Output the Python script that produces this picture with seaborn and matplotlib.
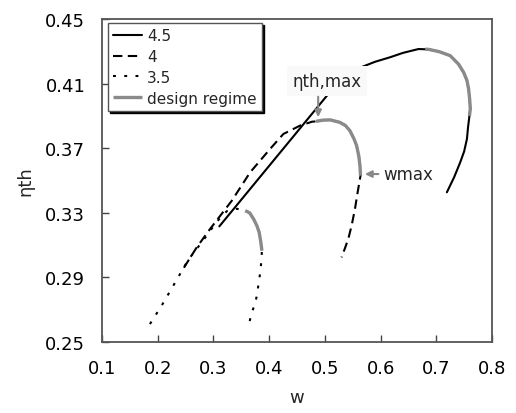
import numpy as np
import pandas as pd
import matplotlib
matplotlib.use("Agg")
import matplotlib.pyplot as plt
import seaborn as sns

# ---- data ----
series_labels = ["4.5", "4", "3.5"]

w_45 = [0.3106, 0.5063, 0.540, 0.565, 0.590, 0.617, 0.640, 0.668, 0.686, 0.705, 0.725,
        0.740, 0.749, 0.755, 0.758, 0.760, 0.761, 0.7595, 0.757, 0.755, 0.750, 0.743, 0.732, 0.719]
eta_45 = [0.3216, 0.4036, 0.4140, 0.4201, 0.4235, 0.4263, 0.4290, 0.4314, 0.4312, 0.4298, 0.4273,
          0.4220, 0.4170, 0.4120, 0.4067, 0.4000, 0.3943, 0.3900, 0.3830, 0.3757, 0.3680, 0.3613, 0.3520, 0.3427]

w_4 = [0.247, 0.270, 0.294, 0.333, 0.366, 0.4016, 0.4255, 0.4555, 0.477, 0.484, 0.497, 0.510,
       0.527, 0.537, 0.545, 0.552, 0.557, 0.561, 0.563, 0.564, 0.559, 0.554, 0.548, 0.542, 0.536, 0.530]
eta_4 = [0.296, 0.3086, 0.320, 0.3375, 0.3551, 0.3695, 0.3788, 0.3840, 0.3864, 0.3866, 0.3874, 0.3875,
         0.3860, 0.3840, 0.3808, 0.3760, 0.3716, 0.3650, 0.3592, 0.3530, 0.3430, 0.3323, 0.3220, 0.3138, 0.3080, 0.3024]

w_35 = [0.186, 0.207, 0.228, 0.255, 0.279, 0.306, 0.324, 0.342, 0.357, 0.365, 0.372, 0.378, 0.382,
        0.385, 0.387, 0.386, 0.384, 0.381, 0.378, 0.374, 0.369, 0.363]
eta_35 = [0.2611, 0.2725, 0.2849, 0.3010, 0.3117, 0.3245, 0.3310, 0.3325, 0.3313, 0.3300, 0.3262, 0.3220,
          0.3180, 0.3120, 0.3065, 0.3000, 0.2931, 0.2860, 0.2787, 0.2730, 0.2684, 0.2601]

# design regime segments (gray)
gw_45 = [0.680, 0.686, 0.705, 0.725, 0.740, 0.749, 0.755, 0.758, 0.760, 0.761, 0.7595]
geta_45 = [0.4313, 0.4312, 0.4298, 0.4273, 0.4220, 0.4170, 0.4120, 0.4067, 0.4000, 0.3943, 0.3900]
gw_4 = [0.484, 0.497, 0.510, 0.527, 0.537, 0.545, 0.552, 0.557, 0.561, 0.563, 0.564]
geta_4 = [0.3866, 0.3874, 0.3875, 0.3860, 0.3840, 0.3808, 0.3760, 0.3716, 0.3650, 0.3592, 0.3530]
gw_35 = [0.357, 0.365, 0.372, 0.378, 0.382, 0.385, 0.387]
geta_35 = [0.3313, 0.3300, 0.3262, 0.3220, 0.3180, 0.3120, 0.3065]

x_ticks = [0.1, 0.2, 0.3, 0.4, 0.5, 0.6, 0.7, 0.8]
y_ticks = [0.25, 0.29, 0.33, 0.37, 0.41, 0.45]

# annotation anchor points
eta_max_pt = (0.488, 0.3875)
w_max_pt = (0.5668, 0.354)

# ---- plot ----
sns.set_theme(style="white")
plt.rcParams["font.family"] = ["DejaVu Sans"]

fig = plt.figure(figsize=(5.16, 4.14), dpi=100)
ax = fig.add_axes([102/516, 1-343/414, 390/516, 323/414])

styles = {
    "4.5": dict(linestyle="-"),
    "4": dict(linestyle=(0, (4.5, 2.6))),
    "3.5": dict(linestyle=(0, (1.4, 4.0))),
}
data = {"4.5": (w_45, eta_45), "4": (w_4, eta_4), "3.5": (w_35, eta_35)}
for lab in series_labels:
    w, e = data[lab]
    df = pd.DataFrame({"w": w, "eta": e})
    sns.lineplot(data=df, x="w", y="eta", sort=False, estimator=None, ax=ax,
                 color="black", linewidth=1.5, label=lab, **styles[lab])

gray = "#8a8a8a"
first = True
for gw, ge in [(gw_45, geta_45), (gw_4, geta_4), (gw_35, geta_35)]:
    df = pd.DataFrame({"w": gw, "eta": ge})
    sns.lineplot(data=df, x="w", y="eta", sort=False, estimator=None, ax=ax,
                 color=gray, linewidth=2.4, label="design regime" if first else None,
                 solid_capstyle="butt")
    first = False

ax.set_xlim(0.1, 0.8)
ax.set_ylim(0.25, 0.45)
ax.set_xticks(x_ticks)
ax.set_yticks(y_ticks)
ax.set_xticklabels([f"{v:.1f}" for v in x_ticks])
ax.set_yticklabels([f"{v:.2f}" for v in y_ticks])
ax.tick_params(axis="both", direction="in", length=5, width=1, color="#444444",
               labelsize=13, colors="black", left=True, bottom=True, top=False, right=False)
ax.tick_params(axis="y", pad=12)
ax.tick_params(axis="x", pad=12)
for s in ax.spines.values():
    s.set_color("#555555")
    s.set_linewidth(1.3)
ax.grid(False)

ax.set_xlabel("w", fontsize=13, labelpad=8)
ax.set_ylabel("ηth", fontsize=13, labelpad=8)

# annotations
ax.text(0.5039, 0.4116, "ηth,max", fontsize=12, ha="center", va="center",
        bbox=dict(boxstyle="square,pad=0.35", fc="#f9f9f9", ec="none"), zorder=5)
ax.annotate("", xy=eta_max_pt, xytext=(eta_max_pt[0], 0.4036),
            arrowprops=dict(arrowstyle="-|>", color="#888888", lw=1.5, mutation_scale=10), zorder=6)
ax.annotate("", xy=w_max_pt, xytext=(0.601, w_max_pt[1]),
            arrowprops=dict(arrowstyle="-|>", color="#888888", lw=1.5, mutation_scale=10), zorder=6)
ax.text(0.605, w_max_pt[1], "wmax", fontsize=12, ha="left", va="center")

leg = ax.legend(loc="upper left", bbox_to_anchor=(0.015, 0.988), borderaxespad=0,
                fontsize=11, frameon=True, fancybox=False,
                shadow={"color": "black", "alpha": 1.0, "ox": 1.5, "oy": -1.5},
                handlelength=1.9, handletextpad=0.3, labelspacing=0.38, borderpad=0.35)
leg.get_frame().set_edgecolor("#555555")
leg.get_frame().set_linewidth(1.0)

fig.savefig("out.png", dpi=100)
